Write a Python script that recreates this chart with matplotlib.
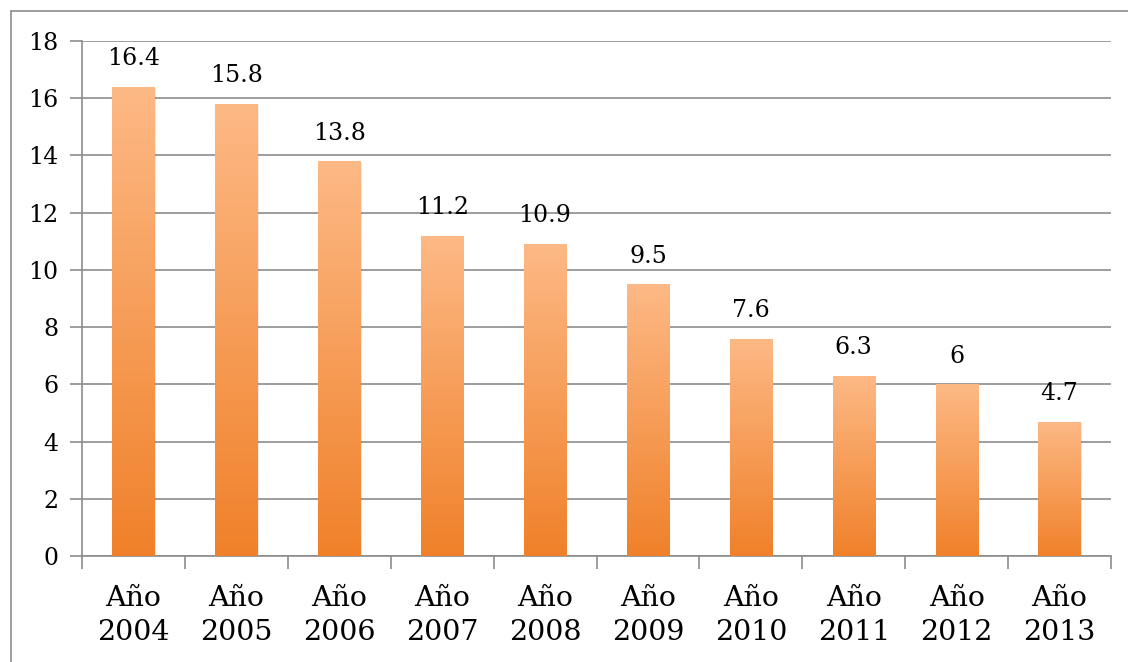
import matplotlib
matplotlib.use("Agg")
import matplotlib.pyplot as plt
import numpy as np
from matplotlib.patches import Rectangle
from matplotlib.colors import LinearSegmentedColormap

categories = ["Año\n2004", "Año\n2005", "Año\n2006", "Año\n2007", "Año\n2008",
              "Año\n2009", "Año\n2010", "Año\n2011", "Año\n2012", "Año\n2013"]
values = [16.4, 15.8, 13.8, 11.2, 10.9, 9.5, 7.6, 6.3, 6, 4.7]
labels = ["16.4", "15.8", "13.8", "11.2", "10.9", "9.5", "7.6", "6.3", "6", "4.7"]
yticks = [0, 2, 4, 6, 8, 10, 12, 14, 16, 18]

plt.rcParams['font.family'] = ['DejaVu Serif']

W, H = 1128, 662
fig = plt.figure(figsize=(W / 100, H / 100), dpi=100)
ax = fig.add_axes([82 / W, 1 - 556 / H, (1111 - 82) / W, (556 - 41) / H])

# outer frame
fig.patches.append(Rectangle((11 / W, -0.1), 1.2, 1 - 11 / H + 0.1, transform=fig.transFigure,
                             fill=False, edgecolor="#8c8c8c", linewidth=1.2))

x = np.arange(len(values))
bw = 0.41
cmap = LinearSegmentedColormap.from_list("g", ["#F0812A", "#FDB985"])
grad = np.linspace(0, 1, 256).reshape(-1, 1)

ax.set_xlim(-0.5, len(values) - 0.5)
ax.set_ylim(0, 18)

bars = ax.bar(x, values, width=bw, color="none", zorder=3)
for b, v in zip(bars, values):
    x0 = b.get_x()
    # shadow
    ax.add_patch(Rectangle((x0 + 0.012, -0.05), bw, v, facecolor="#000000", alpha=0.08,
                           edgecolor="none", zorder=2))
    im = ax.imshow(grad, extent=[x0, x0 + bw, 0, v], origin="lower", aspect="auto",
                   cmap=cmap, zorder=3)
    im.set_clip_path(b)

for xi, v, lab in zip(x, values, labels):
    ax.annotate(lab, (xi, v), xytext=(0, 12), textcoords="offset points",
                ha="center", va="bottom", fontsize=17, color="#000000")

ax.set_yticks(yticks)
ax.set_yticklabels([str(t) for t in yticks], fontsize=17)
ax.yaxis.grid(True, color="#8c8c8c", linewidth=1.2, zorder=0)
ax.set_axisbelow(True)

ax.set_xticks(np.arange(-0.5, len(values), 1.0))
ax.set_xticklabels([])
ax.set_xticks(x, minor=True)
ax.set_xticklabels(categories, minor=True, fontsize=20.5, linespacing=1.32)
ax.tick_params(axis="x", which="major", length=9, width=1.2, color="#8c8c8c", direction="out")
ax.tick_params(axis="x", which="minor", length=0, pad=21)
ax.tick_params(axis="y", length=9, width=1.2, color="#8c8c8c", pad=8)

for s in ["top", "right"]:
    ax.spines[s].set_visible(False)
for s in ["left", "bottom"]:
    ax.spines[s].set_color("#8c8c8c")
    ax.spines[s].set_linewidth(1.2)

fig.savefig("out.png", dpi=100)
